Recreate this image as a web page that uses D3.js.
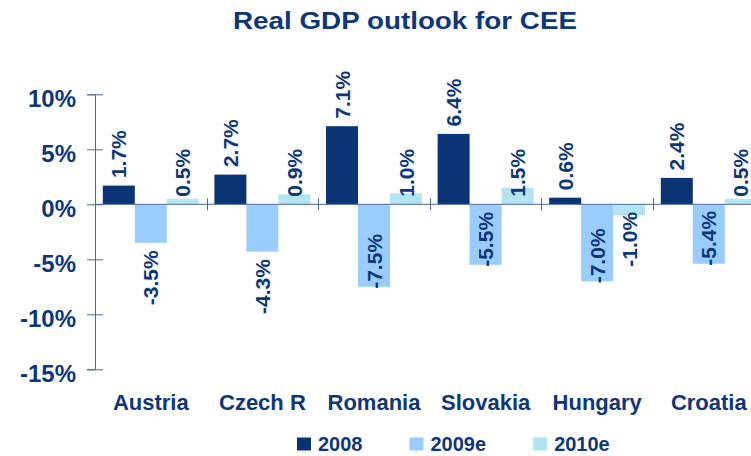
<!DOCTYPE html>
<html>
<head>
<meta charset="utf-8">
<script src="https://cdn.jsdelivr.net/npm/d3@7"></script>
<style>
  body { margin: 0; background: #fff; }
  text { font-family: Arial, "Liberation Sans", sans-serif; font-weight: bold; fill: #0d3778; }
</style>
</head>
<body>
<div id="chart"></div>
<script>
// chart data
const categories = ['Austria', 'Czech R', 'Romania', 'Slovakia', 'Hungary', 'Croatia'];
const seriesNames = ['2008', '2009e', '2010e'];
const gdp2008 = [1.7, 2.7, 7.1, 6.4, 0.6, 2.4];
const gdp2009 = [-3.5, -4.3, -7.5, -5.5, -7.0, -5.4];
const gdp2010 = [0.5, 0.9, 1.0, 1.5, -1.0, 0.5];
const yTicks = [-15, -10, -5, 0, 5, 10];

const W = 751, H = 456;
const colors = ['#0b3474', '#99ccff', '#b3e4ef'];
const axisColor = '#4a6a9c';

let svg = d3.select('#chart')
  .append('svg')
  .attr('width', W)
  .attr('height', H);

// title
svg.append('text')
  .attr('x', 233)
  .attr('y', 28.5)
  .attr('textLength', 344)
  .attr('lengthAdjust', 'spacingAndGlyphs')
  .style('font-size', '24px')
  .text('Real GDP outlook for CEE');

// scales
let x = d3.scaleBand()
  .domain(categories)
  .range([95, 95 + 6 * 111.6]);

let xs = d3.scaleBand()
  .domain(seriesNames)
  .range([0, x.bandwidth()])
  .paddingOuter(0.244);

let y = d3.scaleLinear()
  .domain([-15, 10])
  .range([369.3, 94.3]);

let color = d3.scaleOrdinal().domain(seriesNames).range(colors);

// y axis
let yAxis = svg.append('g')
  .attr('transform', 'translate(95,0)')
  .call(d3.axisLeft(y)
    .tickValues(yTicks)
    .tickSizeOuter(0)
    .tickSize(8)
    .tickFormat(d => d + '%'));

yAxis.select('.domain').attr('stroke', axisColor);
yAxis.selectAll('.tick line')
  .attr('x1', -8)
  .attr('x2', 8)
  .attr('stroke', axisColor);
yAxis.selectAll('.tick text')
  .attr('x', -19)
  .attr('dy', 12.4)
  .attr('fill', '#0d3778')
  .style('font-size', '24px')
  .style('font-family', 'Arial, "Liberation Sans", sans-serif')
  .style('font-weight', 'bold');

// bars
let rows = [];
categories.forEach(function(c, i) {
  rows.push({cat: c, s: '2008', v: gdp2008[i]});
  rows.push({cat: c, s: '2009e', v: gdp2009[i]});
  rows.push({cat: c, s: '2010e', v: gdp2010[i]});
});

svg.append('g')
  .selectAll('rect')
  .data(rows)
  .enter()
  .append('rect')
  .attr('x', d => x(d.cat) + xs(d.s))
  .attr('width', xs.bandwidth())
  .attr('y', d => y(Math.max(0, d.v)))
  .attr('height', d => Math.abs(y(d.v) - y(0)))
  .attr('fill', d => color(d.s));

// zero line and category separators
svg.append('line')
  .attr('x1', 95)
  .attr('x2', W)
  .attr('y1', y(0))
  .attr('y2', y(0))
  .attr('stroke', axisColor);

svg.append('g')
  .selectAll('line')
  .data(categories.slice(1))
  .enter()
  .append('line')
  .attr('x1', d => Math.round(x(d)) + 0.5)
  .attr('x2', d => Math.round(x(d)) + 0.5)
  .attr('y1', y(0) - 6)
  .attr('y2', y(0) + 6)
  .attr('stroke', axisColor);

// value labels, rotated
function labelPos(d) {
  let gap = 7.5;
  if (d.s === '2010e') {
    // anchored at the base
    return d.v >= 0 ? {y: y(0) - gap, anchor: 'start'} : {y: y(0) + gap, anchor: 'end'};
  }
  if (d.v >= 0) return {y: y(d.v) - gap, anchor: 'start'};
  if (Math.abs(d.v) < 5) return {y: y(d.v) + gap, anchor: 'end'};
  return {y: y(d.v) + 2, anchor: 'start'};
}

svg.append('g')
  .selectAll('text')
  .data(rows)
  .enter()
  .append('text')
  .attr('transform', function(d) {
    let p = labelPos(d);
    return 'translate(' + (x(d.cat) + xs(d.s) + xs.bandwidth() / 2) + ',' + p.y + ') rotate(-90)';
  })
  .attr('text-anchor', d => labelPos(d).anchor)
  .attr('dy', '0.36em')
  .style('font-size', '21px')
  .text(d => d.v.toFixed(1) + '%');

// category labels
svg.append('g')
  .selectAll('text')
  .data(categories)
  .enter()
  .append('text')
  .attr('x', d => x(d) + x.bandwidth() / 2)
  .attr('y', 410)
  .attr('text-anchor', 'middle')
  .style('font-size', '22px')
  .text(d => d);

// legend
let legend = svg.append('g');
let lx = 297;
seriesNames.forEach(function(s) {
  legend.append('rect')
    .attr('x', lx)
    .attr('y', 437.5)
    .attr('width', 14)
    .attr('height', 13)
    .attr('fill', color(s));
  let t = legend.append('text')
    .attr('x', lx + 21)
    .attr('y', 450.7)
    .style('font-size', '20px')
    .text(s);
  lx += 21 + t.node().getComputedTextLength() + 47;
});
</script>
</body>
</html>
